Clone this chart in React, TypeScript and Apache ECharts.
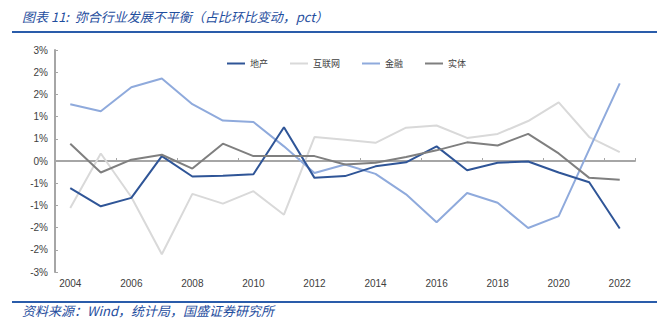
import React, { useEffect, useRef } from "react";
import * as echarts from "echarts";

const years = ["2004","2005","2006","2007","2008","2009","2010","2011","2012","2013","2014","2015","2016","2017","2018","2019","2020","2021","2022"];
const realEstate = [-0.61,-1.02,-0.83,0.11,-0.35,-0.33,-0.30,0.76,-0.38,-0.34,-0.12,-0.03,0.33,-0.21,-0.04,-0.01,-0.26,-0.48,-1.52];
const internet = [-1.06,0.17,-0.81,-2.10,-0.74,-0.96,-0.68,-1.21,0.54,0.48,0.41,0.75,0.80,0.52,0.61,0.90,1.32,0.54,0.20];
const finance = [1.28,1.12,1.66,1.86,1.28,0.91,0.88,0.33,-0.27,-0.08,-0.29,-0.75,-1.38,-0.72,-0.94,-1.51,-1.24,0.26,1.75];
const realEconomy = [0.39,-0.26,0.03,0.14,-0.17,0.39,0.11,0.11,0.11,-0.08,-0.04,0.09,0.24,0.42,0.35,0.61,0.17,-0.38,-0.42];

const seriesNames = ["地产", "互联网", "金融", "实体"];
const seriesColors = ["#2F5597", "#D9D9D9", "#8FAADC", "#7F7F7F"];
const titleText = "图表 11:  弥合行业发展不平衡（占比环比变动，pct）";
const sourceText = "资料来源：Wind，统计局，国盛证券研究所";

export default function App() {
  const ref = useRef<HTMLDivElement>(null);
  useEffect(() => {
    if (!ref.current) return;
    const chart = echarts.init(ref.current, null, { renderer: "svg" });
    const data = [realEstate, internet, finance, realEconomy];
    const font = "'Noto Sans CJK SC', 'Noto Sans', sans-serif";
    chart.setOption({
      animation: false,
      backgroundColor: "#ffffff",
      textStyle: { fontFamily: font },
      grid: { left: 55, right: 33, top: 50, bottom: 56, containLabel: false },
      legend: {
        left: 222,
        top: 54,
        itemWidth: 18,
        itemHeight: 2,
        itemGap: 22,
        icon: "rect",
        data: seriesNames,
        textStyle: { fontSize: 9, color: "#404040", fontFamily: font },
      },
      xAxis: [
        {
          type: "category",
          data: years,
          boundaryGap: true,
          position: "bottom",
          axisLine: { show: false, onZero: false },
          axisTick: { show: false },
          axisLabel: { interval: 1, fontSize: 10, color: "#404040", margin: 6, fontFamily: "'Liberation Sans', sans-serif" },
        },
        {
          type: "category",
          data: years,
          boundaryGap: true,
          position: "bottom",
          axisLine: { show: true, onZero: true, lineStyle: { color: "#A6A6A6", width: 2 } },
          axisTick: { show: true, inside: true, length: 3, interval: 1, lineStyle: { color: "#A6A6A6" } },
          axisLabel: { show: false },
        },
      ],
      yAxis: {
        type: "value",
        min: -2.5,
        max: 2.5,
        interval: 0.5,
        splitLine: { show: false },
        axisLine: { show: true, lineStyle: { color: "#A6A6A6", width: 2 } },
        axisTick: { show: true, inside: true, length: 3, lineStyle: { color: "#A6A6A6" } },
        axisLabel: {
          fontSize: 10,
          color: "#404040",
          margin: 7,
          fontFamily: "'Liberation Sans', sans-serif",
          formatter: (v: number) => {
            const r = Math.sign(v) * Math.round(Math.abs(v));
            return (r === 0 ? 0 : r) + "%";
          },
        },
      },
      series: seriesNames.map((name, i) => ({
        name,
        type: "line",
        xAxisIndex: 0,
        data: data[i],
        symbol: "none",
        z: i === 0 ? 6 : 3 + i,
        lineStyle: { color: seriesColors[i], width: 2 },
        itemStyle: { color: seriesColors[i] },
      })),
      graphic: [
        {
          type: "text",
          left: 22,
          top: 10,
          style: { text: titleText, fontSize: 13, fontStyle: "italic", fill: "#1F4E9E", fontFamily: font },
        },
        {
          type: "rect",
          shape: { x: 12, y: 31, width: 645, height: 2 },
          style: { fill: "#2A5CAA" },
        },
        {
          type: "rect",
          shape: { x: 12, y: 301, width: 645, height: 2 },
          style: { fill: "#2A5CAA" },
        },
        {
          type: "text",
          left: 22,
          top: 304,
          style: { text: sourceText, fontSize: 13, fontStyle: "italic", fill: "#1F4E9E", fontFamily: font },
        },
      ],
    });
    return () => chart.dispose();
  }, []);
  return <div ref={ref} style={{ position: "fixed", left: 0, top: 0, width: 668, height: 328 }} />;
}
